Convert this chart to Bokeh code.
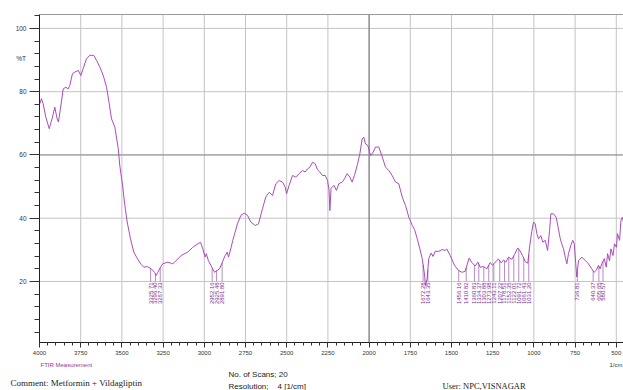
import numpy as np
from bokeh.plotting import figure
from bokeh.models import Range1d, FixedTicker, Label, LinearAxis
from bokeh.core.properties import value
from bokeh.embed import file_html
from bokeh.resources import INLINE

# ---------------- data ----------------
wavenumber = [3998, 3988, 3978, 3962, 3941, 3921, 3907, 3893, 3885, 3873, 3856, 3840, 3826, 3816, 3800, 3786, 3765, 3749, 3735, 3715,
              3695, 3671, 3654, 3634, 3613, 3593, 3577, 3563, 3543, 3522, 3513, 3496, 3482, 3468, 3448, 3428, 3404, 3383, 3367, 3346,
              3322, 3302, 3292, 3282, 3266, 3252, 3221, 3191, 3171, 3140, 3100, 3070, 3039, 3023, 3009, 2995, 2988, 2975, 2954, 2938,
              2922, 2908, 2894, 2882, 2873, 2861, 2853, 2837, 2827, 2819, 2799, 2778, 2758, 2738, 2718, 2691, 2671, 2647, 2627, 2606,
              2586, 2566, 2546, 2525, 2509, 2501, 2485, 2465, 2445, 2424, 2404, 2388, 2374, 2360, 2343, 2327, 2313, 2299, 2283, 2266,
              2252, 2243, 2238, 2231, 2213, 2198, 2184, 2163, 2149, 2133, 2117, 2103, 2089, 2072, 2056, 2042, 2032, 2022, 2008, 1991,
              1975, 1961, 1941, 1920, 1900, 1880, 1860, 1840, 1820, 1799, 1779, 1759, 1738, 1724, 1708, 1692, 1678, 1664, 1658, 1648,
              1638, 1624, 1612, 1598, 1577, 1558, 1538, 1529, 1508, 1482, 1458, 1437, 1417, 1393, 1377, 1356, 1340, 1326, 1306, 1286,
              1265, 1251, 1235, 1215, 1198, 1184, 1170, 1154, 1134, 1118, 1098, 1083, 1069, 1053, 1037, 1025, 1013, 1002, 992, 982,
              972, 958, 946, 931, 917, 905, 897, 881, 865, 857, 840, 831, 820, 810, 800, 790, 776, 764, 755, 746,
              740, 729, 709, 688, 669, 649, 634, 622, 608, 598, 588, 573, 561, 553, 541, 533, 520, 511, 499, 493,
              480, 472, 463, 455]
transmittance = [76.2, 77.8, 76.2, 72.0, 68.3, 72.0, 75.1, 71.4, 70.4, 74.6, 80.9, 81.4, 80.9, 82.0, 85.7, 86.2, 86.7, 85.1, 87.3, 90.4,
                 91.5, 91.5, 89.9, 87.8, 85.1, 81.4, 76.2, 71.4, 68.8, 62.0, 56.7, 50.4, 44.0, 38.8, 33.5, 29.3, 27.0, 25.4, 24.5, 24.7,
                 24.0, 22.9, 21.9, 22.9, 24.5, 25.6, 26.1, 25.6, 26.6, 28.2, 29.3, 30.8, 31.9, 32.4, 30.3, 27.7, 28.8, 26.6, 24.5, 22.9,
                 23.5, 24.0, 25.6, 27.2, 28.2, 29.3, 27.7, 30.8, 33.0, 34.5, 38.2, 40.9, 41.6, 40.9, 38.8, 37.7, 38.2, 43.0, 46.7, 48.2,
                 47.2, 50.9, 51.9, 51.4, 49.8, 47.7, 50.4, 53.5, 53.0, 54.1, 55.1, 54.6, 55.6, 56.1, 57.7, 57.2, 55.3, 54.6, 53.5, 53.5,
                 51.9, 48.8, 42.4, 49.4, 50.4, 48.8, 50.9, 51.4, 52.5, 54.1, 53.0, 51.4, 53.5, 56.7, 60.4, 65.1, 65.6, 63.5, 63.0, 59.8,
                 60.9, 62.5, 62.5, 59.3, 56.1, 55.1, 53.5, 51.4, 50.9, 46.7, 44.0, 40.3, 37.7, 36.4, 33.5, 30.3, 27.3, 22.4, 18.7, 20.9,
                 27.3, 29.0, 27.9, 29.6, 29.5, 30.1, 29.8, 30.3, 28.2, 25.1, 23.5, 22.9, 23.2, 27.4, 26.0, 24.9, 26.1, 24.5, 24.7, 24.0,
                 26.0, 25.1, 26.1, 27.1, 25.9, 26.8, 26.1, 27.7, 27.0, 28.5, 30.6, 29.6, 28.2, 26.3, 25.8, 31.4, 35.8, 38.8, 38.2, 35.1,
                 33.5, 34.5, 32.4, 33.0, 29.8, 36.1, 41.4, 41.4, 40.3, 38.2, 33.5, 31.9, 30.3, 27.7, 25.6, 28.8, 31.4, 33.0, 31.9, 25.6,
                 21.4, 26.6, 27.7, 26.6, 25.6, 24.0, 22.9, 23.5, 25.1, 24.0, 25.6, 27.2, 24.5, 28.8, 26.5, 30.3, 28.2, 31.9, 30.8, 35.1,
                 33.0, 39.3, 40.3, 38.2]

peak_wavenumbers = [3325.71, 3296.40, 3267.33, 2952.16, 2925.48, 2891.80, 1672.28, 1643.35,
                    1456.16, 1410.82, 1360.83, 1334.37, 1303.88, 1273.98, 1243.11, 1207.22,
                    1178.51, 1152.35, 1122.01, 1091.72, 1061.43, 1031.20, 736.81, 640.37,
                    605.65, 580.57]
peak_labels = [f"{v:.2f}" for v in peak_wavenumbers]

x_major = [4000, 3750, 3500, 3250, 3000, 2750, 2500, 2250, 2000, 1750, 1500, 1250, 1000, 750, 500]
y_major = [20, 40, 60, 80, 100]

# plotted window of the spectrum (axis limits)
X_LEFT, X_RIGHT = 4000.0, 456.3
Y_BOTTOM, Y_TOP = 0.7, 104.4

# ---------------- layout geometry (pixels) ----------------
W, H = 623, 390
AX_LEFT, AX_RIGHT, AX_TOP, AX_BOTTOM = 39, 623, 14, 342
kx = (AX_RIGHT - AX_LEFT) / (X_LEFT - X_RIGHT)     # px per wavenumber
ky = (AX_BOTTOM - AX_TOP) / (Y_TOP - Y_BOTTOM)     # px per %T

def px_x(px):
    return X_LEFT - (px - AX_LEFT) / kx

def px_y(py):
    return Y_BOTTOM + (AX_BOTTOM - py) / ky

p = figure(width=W, height=H,
           x_range=Range1d(px_x(0), px_x(W)), y_range=Range1d(px_y(H), px_y(0)),
           output_backend="svg", toolbar_location=None, min_border=0)
p.background_fill_color = "white"
p.border_fill_color = "white"
p.outline_line_color = None
p.xgrid.visible = False
p.ygrid.visible = False

FONT = "Liberation Sans"

# axes pinned at the spectrum window edges
xt = FixedTicker(ticks=x_major, minor_ticks=list(range(500, 4001, 50)))
yt = FixedTicker(ticks=y_major, minor_ticks=list(range(4, 105, 4)))
p.xaxis.ticker = xt
p.yaxis.ticker = yt
p.xaxis.fixed_location = Y_BOTTOM
p.yaxis.fixed_location = X_LEFT
p.xaxis.bounds = (X_RIGHT, X_LEFT)
p.yaxis.bounds = (Y_BOTTOM, Y_TOP)

for ax in (p.xaxis, p.yaxis):
    ax.axis_line_color = "#222222"
    ax.major_tick_line_color = "#333333"
    ax.minor_tick_line_color = "#333333"
    ax.major_tick_in = 0
    ax.minor_tick_in = 0
    ax.major_label_text_font = FONT
    ax.major_label_text_color = "#333333"

p.xaxis.major_tick_out = 5
p.xaxis.minor_tick_out = 3
p.xaxis.major_label_standoff = 3
p.xaxis.major_label_text_font_size = "6px"
p.yaxis.major_tick_out = 10
p.yaxis.minor_tick_out = 5
p.yaxis.major_label_standoff = 3
p.yaxis.major_label_text_font_size = "6.5px"

top_axis = LinearAxis(fixed_location=Y_TOP, bounds=(X_RIGHT, X_LEFT), ticker=FixedTicker(ticks=[]),
                      axis_line_color="#9a9a9a", major_tick_out=0, minor_tick_out=0,
                      major_label_text_font_size="0px")
p.add_layout(top_axis, "above")

# grid lines (limited to the spectrum window)
vx = [v for v in x_major if v != 4000]
p.segment(x0=vx, y0=[Y_BOTTOM] * len(vx), x1=vx, y1=[Y_TOP] * len(vx),
          line_color="#c4c4c4", line_width=1, level="underlay")
p.segment(x0=[X_LEFT] * len(y_major), y0=y_major, x1=[X_RIGHT] * len(y_major), y1=y_major,
          line_color="#c4c4c4", line_width=1, level="underlay")
p.segment(x0=[2000], y0=[Y_BOTTOM], x1=[2000], y1=[Y_TOP], line_color="#6e6e6e", line_width=1, level="underlay")
p.segment(x0=[X_LEFT], y0=[60], x1=[X_RIGHT], y1=[60], line_color="#8e8e8e", line_width=1, level="underlay")

# spectrum
p.line(wavenumber, transmittance, line_color="#aa4cba", line_width=1)

# peak annotations
wn_arr = np.array(wavenumber, dtype=float)
t_arr = np.array(transmittance, dtype=float)
curve_at = np.interp(peak_wavenumbers, wn_arr[::-1], t_arr[::-1])
label_top = np.minimum(curve_at - 1.5, 20.0)
p.segment(x0=peak_wavenumbers, y0=curve_at, x1=peak_wavenumbers, y1=label_top,
          line_color="#8a3a9a", line_width=0.6)
p.text(x=peak_wavenumbers, y=list(label_top - 0.3), text=peak_labels, angle=np.pi / 2,
       text_align="right", text_baseline="middle", text_font_size="6px",
       text_color="#7b2d8e", text_font=value(FONT))

# texts placed by pixel position
def add_label(txt, x, y, size, font=FONT, color="#222222", align="left", baseline="alphabetic"):
    p.add_layout(Label(x=px_x(x), y=px_y(y), text=txt,
                       text_font_size=size, text_font=font, text_color=color,
                       text_align=align, text_baseline=baseline))

add_label("%T", 20.5, 58, "6.5px", align="center", baseline="middle", color="#333333")
add_label("1/cm", 622, 364, "6px", color="#333333", align="right")
add_label("FTIR Measurement", 40, 364, "6px", color="#a030a0")
add_label("Comment: Metformin + Vildagliptin", 10, 382, "9px", font="Liberation Serif")
add_label("No. of Scans; 20", 228, 373.5, "8px")
add_label("Resolution;", 228, 385.5, "8px")
add_label("4 [1/cm]", 277, 385.5, "8px")
add_label("User: NPC,VISNAGAR", 442, 385.5, "8.5px", font="Liberation Serif")

open("out.html", "w").write(file_html(p, INLINE))
